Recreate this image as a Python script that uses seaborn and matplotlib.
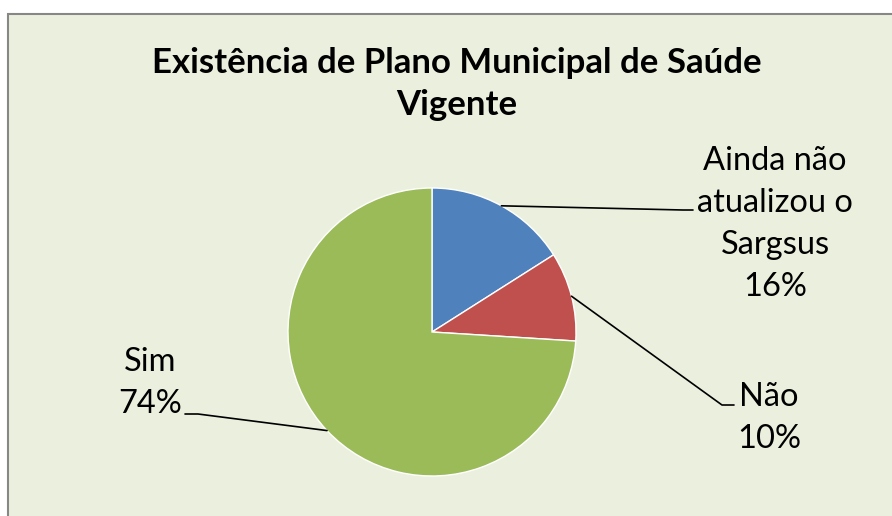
import numpy as np
import seaborn as sns
import matplotlib.pyplot as plt
from matplotlib.patches import Rectangle

# DATA
labels = ["Ainda não\natualizou o\nSargsus", "Não", "Sim"]
shares = [16, 10, 74]
colors = ["#4F81BD", "#C0504D", "#9BBB59"]

sns.set_theme(style="white")
plt.rcParams["font.family"] = ["Lato", "DejaVu Sans"]

W, H = 892, 516
fig = plt.figure(figsize=(W / 100, H / 100), dpi=100)
ax = fig.add_axes([0, 0, 1, 1])

# chart area background
ax.add_patch(Rectangle((8, -10), W, H - 14 + 10, facecolor="#EBF0DE",
                       edgecolor="#878787", linewidth=1.5, zorder=0))

ax.text(457, H - 84, "Existência de Plano Municipal de Saúde\nVigente",
        ha="center", va="center", fontsize=25, fontweight="bold",
        linespacing=1.38, color="black")

cx, cy, r = 432, H - 332, 144
palette = sns.color_palette(colors)
wedges, _ = ax.pie(shares, colors=palette, startangle=90, counterclock=False,
                   center=(cx, cy), radius=r, frame=True)
ax.set_xlim(0, W)
ax.set_ylim(0, H)
ax.set_aspect("equal")
ax.axis("off")

# LABELS + LEADER LINES
label_pos = [(775, H - 224), (769, H - 418), (150, H - 383)]
elbows = [((683, H - 210), (693, H - 210)),
          ((722, H - 405), (734, H - 405)),
          ((198, H - 414), (185, H - 414))]

for w, lab, s, pos, (e1, e2) in zip(wedges, labels, shares, label_pos, elbows):
    mid = np.deg2rad((w.theta1 + w.theta2) / 2)
    px, py = cx + r * np.cos(mid), cy + r * np.sin(mid)
    ax.plot([px, e1[0], e2[0]], [py, e1[1], e2[1]], color="black", lw=1.2)
    ax.text(pos[0], pos[1], f"{lab}\n{s}%", ha="center", va="center",
            fontsize=23.5, linespacing=1.5, color="black")

fig.savefig("out.png", dpi=100)
